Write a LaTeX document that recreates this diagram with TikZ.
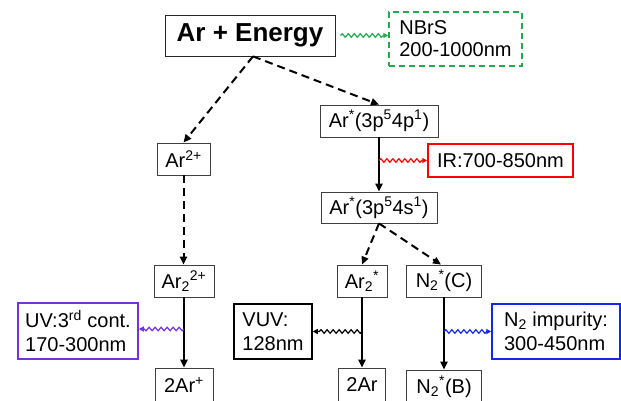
\documentclass[tikz,border=0pt]{standalone}
\usepackage{fontspec}
\setmainfont{Liberation Sans}
\usetikzlibrary{arrows.meta,decorations.pathmorphing}
\definecolor{nbrsgreen}{RGB}{34,170,80}
\definecolor{uvpurple}{RGB}{120,50,220}
\definecolor{nblue}{RGB}{20,40,235}

\begin{document}
\begin{tikzpicture}[
  x=1pt, y=-1pt,
  state/.style={draw=black!75, line width=0.8pt, inner sep=0pt, font=\fontsize{20}{24}\selectfont},
  emission/.style={state, align=left, line width=1.5pt},
  transfer/.style={line width=2pt, dash pattern=on 8pt off 5pt, -{Triangle[length=8pt,width=7pt]}},
  decay/.style={line width=2pt, -{Triangle[length=8pt,width=7pt]}},
  photon/.style={line width=1.2pt, -{Triangle[length=5pt,width=5pt]}, decorate,
    decoration={snake, amplitude=1.8pt, segment length=6pt, post length=4pt}}
]
\useasboundingbox (0,0) rectangle (621,401);
\clip (0,0) rectangle (621,401);

\node[state, draw=black!85, font=\fontsize{26}{30}\selectfont\bfseries, minimum width=170pt, minimum height=41pt] (energy) at (250,35.5) {Ar + Energy};
\node[emission, draw=nbrsgreen, dash pattern=on 6pt off 4pt, font=\fontsize{20}{22}\selectfont, minimum width=133pt, minimum height=54pt] (nbrs) at (455.5,39) {NBrS\\200-1000nm};

\node[state, minimum width=118pt, minimum height=32pt] (p4) at (379,121) {Ar\textsuperscript{*}(3p\textsuperscript{5}4p\textsuperscript{1})};
\node[state, minimum width=53pt, minimum height=32pt] (ar2p) at (183.5,159) {Ar\textsuperscript{2+}};
\node[emission, draw=red, minimum width=145pt, minimum height=33pt] (ir) at (500.5,160.5) {IR:700-850nm};
\node[state, minimum width=116pt, minimum height=31pt] (s4) at (379,207.5) {Ar\textsuperscript{*}(3p\textsuperscript{5}4s\textsuperscript{1})};

\node[state, minimum width=60pt, minimum height=32pt] (dimion) at (184,281) {Ar\textsubscript{2}\textsuperscript{2+}};
\node[state, minimum width=50pt, minimum height=32pt] (ar2x) at (362,281) {Ar\textsubscript{2}\textsuperscript{*}};
\node[state, minimum width=75pt, minimum height=32pt] (n2c) at (444,281) {N\textsubscript{2}\textsuperscript{*}(C)};

\node[emission, draw=uvpurple, minimum width=120pt, minimum height=56pt] (uv) at (78,331) {UV:3\textsuperscript{rd} cont.\\170-300nm};
\node[emission, draw=black, minimum width=78pt, minimum height=55pt] (vuv) at (273,331.5) {VUV:\\128nm};
\node[emission, draw=nblue, minimum width=128pt, minimum height=55pt] (n2imp) at (556,331.5) {N\textsubscript{2} impurity:\\300-450nm};

\node[state, minimum width=58pt, minimum height=34pt] (ionpair) at (184,385) {2Ar\textsuperscript{+}};
\node[state, minimum width=47pt, minimum height=34pt] (twoar) at (362,385) {2Ar};
\node[state, minimum width=75pt, minimum height=34pt] (n2b) at (444,387) {N\textsubscript{2}\textsuperscript{*}(B)};

\draw[transfer] ([xshift=3pt]energy.south) -- (ar2p.north);
\draw[transfer] ([xshift=3pt]energy.south) -- (p4.north);
\draw[transfer] (ar2p.south) -- (ar2p.south |- dimion.north);
\draw[decay] (p4.south) -- (s4.north);
\draw[transfer] (s4.south) -- (ar2x.north);
\draw[transfer] (s4.south) -- ([xshift=-3pt]n2c.north);
\draw[decay] (dimion.south) -- (ionpair.north);
\draw[decay] (ar2x.south) -- (twoar.north);
\draw[decay] (n2c.south) -- (n2b.north);

\draw[photon, nbrsgreen] ([xshift=5pt]energy.east) -- (nbrs.west |- energy.east);
\draw[photon, red] (p4.south |- ir.west) -- (ir.west);
\draw[photon, uvpurple] ([yshift=2pt]dimion.south |- uv.east) -- ([yshift=2pt]uv.east);
\draw[photon, black] (ar2x.south |- vuv.east) -- (vuv.east);
\draw[photon, nblue] (n2c.south |- n2imp.west) -- (n2imp.west);
\end{tikzpicture}
\end{document}
